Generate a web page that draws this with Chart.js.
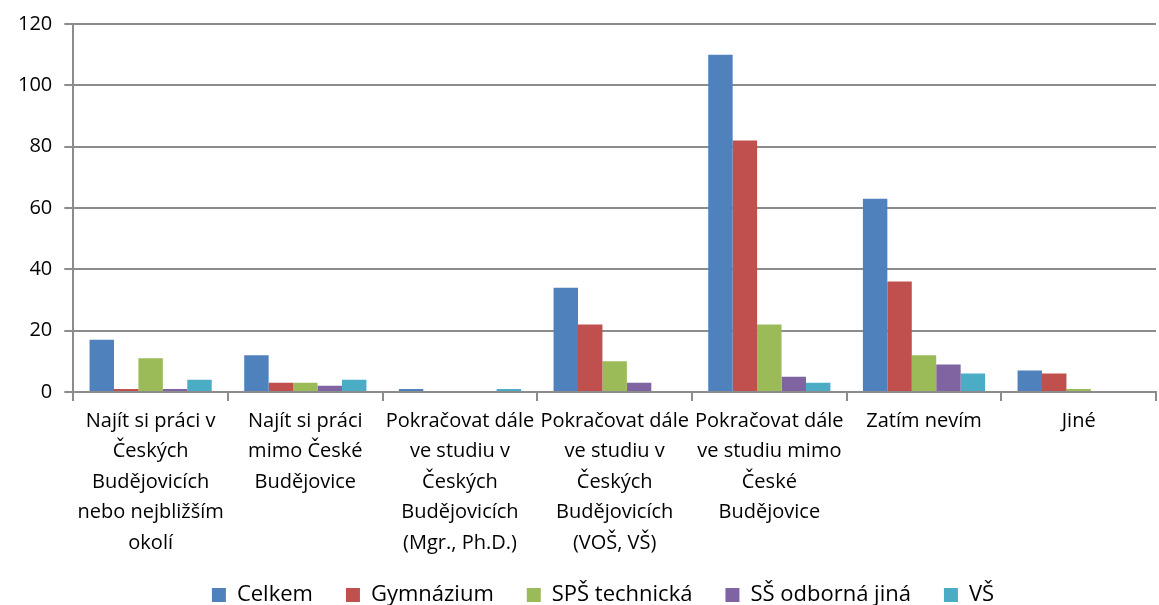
<!DOCTYPE html>
<html><head><meta charset="utf-8">
<script src="https://cdn.jsdelivr.net/npm/chart.js@4"></script>
<style>html,body{margin:0;padding:0;background:#fff}#w{width:1159px;height:605px}</style>
</head><body><div id="w"><canvas id="c"></canvas></div>
<script>
const categories = [
  ["Najít si práci v","Českých","Budějovicích","nebo nejbližším","okolí"],
  ["Najít si práci","mimo České","Budějovice"],
  ["Pokračovat dále","ve studiu v","Českých","Budějovicích","(Mgr., Ph.D.)"],
  ["Pokračovat dále","ve studiu v","Českých","Budějovicích","(VOŠ, VŠ)"],
  ["Pokračovat dále","ve studiu mimo","České","Budějovice"],
  ["Zatím nevím"],
  ["Jiné"]
];
const seriesNames = ["Celkem","Gymnázium","SPŠ technická","SŠ odborná jiná","VŠ"];
const celkem = [17,12,1,34,110,63,7];
const gymnazium = [1,3,0,22,82,36,6];
const spsTechnicka = [11,3,0,10,22,12,1];
const ssOdborna = [1,2,0,3,5,9,0];
const vs = [4,4,1,0,3,6,0];
const yTicks = [0,20,40,60,80,100,120];

const colors = ["#4F81BD","#C0504D","#9BBB59","#8064A2","#4BACC6"];
const seriesData = [celkem,gymnazium,spsTechnicka,ssOdborna,vs];
const FONT = "'Open Sans', Lato, sans-serif";
const legendTweak = {
  id:'legendTweak',
  beforeLayout(chart){
    const lg = chart.legend;
    if(lg && !lg._tw){ const f = lg.fit; lg.fit = function(){ f.apply(this, arguments); this.height -= 11; }; lg._tw = true; }
  },
  afterLayout(chart){
    const lg = chart.legend;
    if(lg){ lg.left += 22; lg.right += 22; lg.top -= 12; lg.bottom -= 12; }
  }
};
new Chart(document.getElementById('c'), {
  type:'bar',
  data:{labels:categories, datasets: seriesNames.map((n,i)=>({label:n,data:seriesData[i],backgroundColor:colors[i],borderWidth:0,barPercentage:1,categoryPercentage:0.79}))},
  options:{
    responsive:true, maintainAspectRatio:false, animation:false,
    layout:{padding:{top:12,right:3,left:6,bottom:-12}},
    plugins:{
      legend:{position:'bottom',labels:{boxWidth:14,boxHeight:14,padding:33,color:'#000',font:{family:FONT,size:22}}},
      tooltip:{enabled:false}
    },
    scales:{
      x:{
        offset:true,
        grid:{offset:true,drawOnChartArea:false,drawTicks:true,tickLength:9,color:'#8c8c8c',lineWidth:2},
        border:{color:'#8c8c8c',width:2},
        ticks:{maxRotation:0,minRotation:0,autoSkip:false,color:'#000',padding:5,font:{family:FONT,size:20,lineHeight:1.52}}
      },
      y:{
        min:0,max:120,
        afterBuildTicks:(s)=>{s.ticks=yTicks.map(v=>({value:v}));},
        grid:{color:'#8c8c8c',lineWidth:2,tickLength:9},
        border:{color:'#8c8c8c',width:2},
        ticks:{color:'#000',padding:12,font:{family:FONT,size:20}}
      }
    }
  },
  plugins:[legendTweak]
});
</script></body></html>
